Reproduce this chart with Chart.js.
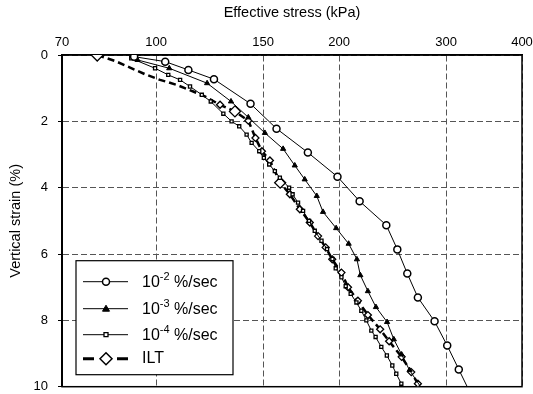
<!DOCTYPE html>
<html>
<head>
<meta charset="utf-8">
<script src="https://cdn.jsdelivr.net/npm/chart.js@4.4.0/dist/chart.umd.min.js"></script>
<style>
  html, body { margin: 0; padding: 0; background: #fff; }
  #wrap { width: 533px; height: 394px; }
</style>
</head>
<body>
<div id="wrap"><canvas id="chart" width="533" height="394"></canvas></div>
<script>
// axis ticks
const stressTicks = [70, 100, 150, 200, 300, 400];
const strainTicks = [0, 2, 4, 6, 8, 10];

// legend text
const rateExponents = ['-2', '-3', '-4'];
const iltLabel = 'ILT';

// 10^-2 %/sec
const rate2Stress = [92, 103.5, 113, 124.5, 143, 157.8, 177.7, 198.8, 216.2, 239.2, 249.4, 259, 269.6, 287.2, 301.3, 314.8, 325];
const rate2Strain = [0.05, 0.2, 0.45, 0.73, 1.47, 2.22, 2.94, 3.67, 4.41, 5.13, 5.86, 6.59, 7.31, 8.03, 8.76, 9.48, 10];

// 10^-3 %/sec
const rate3Stress = [93.2, 105.1, 121.3, 132.8, 141.8, 151, 161.8, 169.1, 175.6, 183.8, 188.2, 197.8, 207.4, 214, 216.8, 223.1, 230, 239.9, 246.1, 253.5, 261.2, 272.3];
const rate3Strain = [0.15, 0.4, 0.85, 1.4, 1.88, 2.35, 2.83, 3.33, 3.75, 4.25, 4.73, 5.22, 5.69, 6.16, 6.64, 7.12, 7.6, 8.05, 8.57, 9.03, 9.5, 10];

// 10^-4 %/sec
const rate4Stress = [91, 99.6, 104.7, 109.5, 113.7, 118.9, 123, 129, 133.1, 137, 140.9, 143.6, 147.8, 150.4, 153.5, 156.8, 159.8, 165.5, 167.7, 171.2, 174.5, 178.5, 182.4, 187.1, 191.1, 195, 197.5, 201.8, 205.1, 209, 213.6, 217.6, 221.8, 226, 229.7, 234.7, 239.7, 244.7, 248.4, 253.2, 254.5];
const rate4Strain = [0.1, 0.4, 0.6, 0.75, 0.95, 1.2, 1.4, 1.77, 2.0, 2.15, 2.4, 2.65, 2.9, 3.1, 3.3, 3.5, 3.7, 4.0, 4.2, 4.45, 4.7, 5.0, 5.3, 5.6, 5.85, 6.15, 6.43, 6.7, 6.97, 7.2, 7.46, 7.71, 8.0, 8.31, 8.5, 8.8, 9.06, 9.36, 9.61, 9.91, 10];

// ILT
const iltStress = [80, 85.6, 90.6, 95.9, 101.5, 108.1, 115.1, 120.3, 127.4, 134.8, 141.8, 145.7, 149.3, 153.9, 160, 166, 172.4, 179, 184.7, 190.1, 194.9, 201.8, 206.9, 214.8, 223.1, 233.7, 241.8, 253.5, 262.9, 269.6, 271];
const iltStrain = [0, 0.18, 0.38, 0.58, 0.75, 0.9, 1.1, 1.25, 1.5, 1.7, 1.98, 2.5, 2.9, 3.18, 3.85, 4.2, 4.65, 5.05, 5.46, 5.8, 6.16, 6.56, 7.0, 7.41, 7.84, 8.27, 8.63, 9.1, 9.56, 9.91, 10];

const toPoints = (xs, ys) => xs.map((x, i) => ({ x: x, y: ys[i] }));

Chart.defaults.font.family = "'Liberation Sans', Arial, sans-serif";
Chart.defaults.color = '#000';

// hide marker on the last point (where the curve leaves the frame)
const lastHidden = r => ctx => ctx.dataIndex === ctx.dataset.data.length - 1 ? 0 : r;

function iltRadius(ctx) {
  const i = ctx.dataIndex;
  const p = ctx.dataset.data[i];
  if (i === 0) return 6;
  if (i === ctx.dataset.data.length - 1) return 0;
  if (p.y < 1.5) return 0;
  if (p.y === 1.7 || p.y === 3.85) return 5.5;
  return 3.5;
}

// black frame around the plot
const framePlugin = {
  id: 'frame',
  beforeDatasetsDraw(chart) {
    const { ctx, chartArea: a } = chart;
    ctx.save();
    ctx.strokeStyle = '#000';
    ctx.lineWidth = 1.5;
    ctx.strokeRect(a.left, a.top, a.right - a.left, a.bottom - a.top);
    ctx.lineWidth = 2;
    ctx.beginPath();
    ctx.moveTo(a.left, a.top);
    ctx.lineTo(a.left, a.bottom);
    ctx.stroke();
    ctx.restore();
  }
};

function marker(ctx, style, x, y) {
  ctx.save();
  ctx.strokeStyle = '#000';
  ctx.beginPath();
  if (style === 'circle') {
    ctx.lineWidth = 1.5; ctx.fillStyle = '#fff';
    ctx.arc(x, y, 3.5, 0, Math.PI * 2);
  } else if (style === 'triangle') {
    ctx.lineWidth = 1; ctx.fillStyle = '#000';
    ctx.moveTo(x, y - 3.5); ctx.lineTo(x + 3.5, y + 2.5); ctx.lineTo(x - 3.5, y + 2.5); ctx.closePath();
  } else if (style === 'rect') {
    ctx.lineWidth = 1.3; ctx.fillStyle = '#fff';
    ctx.rect(x - 2, y - 2, 4, 4);
  } else {
    ctx.lineWidth = 1.5; ctx.fillStyle = '#fff';
    ctx.moveTo(x, y - 6); ctx.lineTo(x + 6, y); ctx.lineTo(x, y + 6); ctx.lineTo(x - 6, y); ctx.closePath();
  }
  ctx.fill();
  ctx.stroke();
  ctx.restore();
}

// legend box drawn inside the plot, lower left
const legendPlugin = {
  id: 'boxLegend',
  afterDraw(chart) {
    const { ctx, chartArea: a } = chart;
    const left = a.left + 14, top = a.bottom - 126, w = 157, h = 114;
    const big = "16px 'Liberation Sans', Arial, sans-serif";
    const small = "11px 'Liberation Sans', Arial, sans-serif";
    ctx.save();
    ctx.fillStyle = '#fff';
    ctx.fillRect(left, top, w, h);
    ctx.strokeStyle = '#000';
    ctx.lineWidth = 1.2;
    ctx.strokeRect(left, top, w, h);

    const rows = [top + 21, top + 48, top + 74, top + 98];
    const styles = ['circle', 'triangle', 'rect'];
    const x0 = left + 7, x1 = left + 52, xm = left + 30, tx = left + 66;
    ctx.textBaseline = 'middle';
    rateExponents.forEach((e, i) => {
      const y = rows[i];
      ctx.lineWidth = 1;
      ctx.beginPath(); ctx.moveTo(x0, y); ctx.lineTo(x1, y); ctx.stroke();
      marker(ctx, styles[i], xm, y);
      ctx.fillStyle = '#000';
      ctx.font = big;
      ctx.fillText('10', tx, y + 1);
      let x = tx + ctx.measureText('10').width;
      ctx.font = small;
      ctx.fillText(e, x, y - 5);
      x += ctx.measureText(e).width;
      ctx.font = big;
      ctx.fillText(' %/sec', x, y + 1);
    });
    const y = rows[3];
    ctx.lineWidth = 3;
    ctx.beginPath();
    ctx.moveTo(x0, y); ctx.lineTo(x0 + 11, y);
    ctx.moveTo(x1 - 11, y); ctx.lineTo(x1, y);
    ctx.stroke();
    marker(ctx, 'diamond', xm, y);
    ctx.fillStyle = '#000';
    ctx.font = big;
    ctx.fillText(iltLabel, tx, y);
    ctx.restore();
  }
};

new Chart(document.getElementById('chart'), {
  type: 'line',
  data: {
    datasets: [
      {
        label: '10' + rateExponents[0] + ' %/sec',
        data: toPoints(rate2Stress, rate2Strain),
        borderColor: '#000', borderWidth: 1,
        pointStyle: 'circle', pointRadius: lastHidden(3.5),
        pointBackgroundColor: '#fff', pointBorderColor: '#000', pointBorderWidth: 1.5
      },
      {
        label: '10' + rateExponents[1] + ' %/sec',
        data: toPoints(rate3Stress, rate3Strain),
        borderColor: '#000', borderWidth: 1,
        pointStyle: 'triangle', pointRadius: lastHidden(3),
        pointBackgroundColor: '#000', pointBorderColor: '#000', pointBorderWidth: 1
      },
      {
        label: '10' + rateExponents[2] + ' %/sec',
        data: toPoints(rate4Stress, rate4Strain),
        borderColor: '#000', borderWidth: 1,
        pointStyle: 'rect', pointRadius: lastHidden(2.2),
        pointBackgroundColor: '#fff', pointBorderColor: '#000', pointBorderWidth: 1.3
      },
      {
        label: iltLabel,
        data: toPoints(iltStress, iltStrain),
        borderColor: '#000', borderWidth: 2.5, borderDash: [7, 4],
        pointStyle: 'rectRot', pointRadius: iltRadius,
        pointBackgroundColor: '#fff', pointBorderColor: '#000', pointBorderWidth: 1.3
      }
    ]
  },
  options: {
    responsive: false,
    animation: false,
    layout: { padding: { left: 0, right: 11, top: 0, bottom: 6 } },
    plugins: { legend: { display: false }, tooltip: { enabled: false } },
    scales: {
      x: {
        type: 'logarithmic',
        position: 'top',
        min: 70, max: 400,
        afterBuildTicks: s => { s.ticks = stressTicks.map(v => ({ value: v })); },
        afterFit: s => { s.height = 55; s.paddingLeft = 0; s.paddingRight = 0; },
        ticks: { callback: v => String(v), font: { size: 13 }, padding: 5, maxRotation: 0, autoSkip: false },
        grid: { color: '#555', lineWidth: 1, drawTicks: false },
        border: { color: '#000', width: 1.5, dash: [6, 3] },
        title: { display: true, text: 'Effective stress (kPa)', font: { size: 14.5 }, padding: { top: 4 } }
      },
      y: {
        type: 'linear',
        reverse: true,
        min: 0, max: 10,
        afterBuildTicks: s => { s.ticks = strainTicks.map(v => ({ value: v })); },
        afterFit: s => { s.width = 62; s.paddingTop = 0; s.paddingBottom = 0; },
        ticks: { font: { size: 13 }, padding: 10 },
        grid: { color: '#555', lineWidth: 1, tickLength: 4, tickColor: '#000', tickBorderDash: [] },
        border: { color: '#000', width: 2, dash: [6, 3] },
        title: { display: true, text: 'Vertical strain (%)', font: { size: 14.5 }, padding: { top: 7 } }
      }
    }
  },
  plugins: [framePlugin, legendPlugin]
});
</script>
</body>
</html>
